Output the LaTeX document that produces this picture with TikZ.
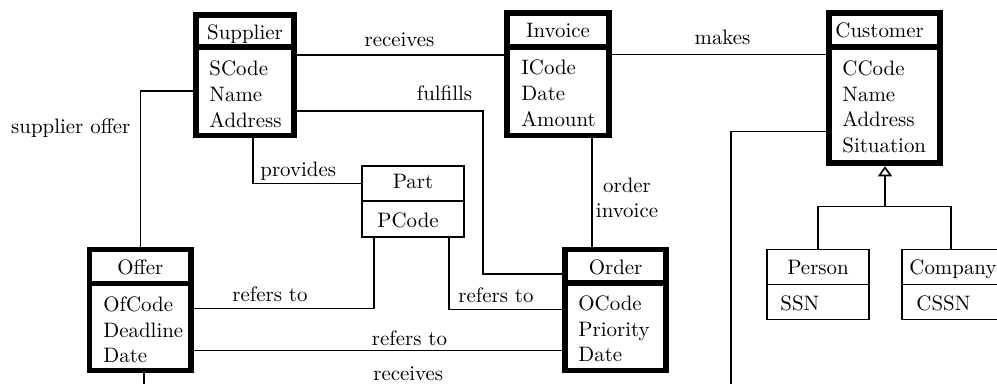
\documentclass[tikz,border=0pt]{standalone}
\usetikzlibrary{fit,arrows.meta}
\begin{document}
\begin{tikzpicture}[x=0.4785pt, y=-0.4785pt,
  every node/.style={font=\fontsize{10}{12.4}\selectfont},
  entity/.style={draw, line width=2.8pt, inner sep=0pt},
  plainbox/.style={draw, line width=0.75pt, inner sep=0pt},
  title/.style={anchor=base, inner sep=0pt},
  titleleft/.style={anchor=base west, inner sep=0pt},
  attrs/.style={anchor=north west, align=left, inner sep=0pt},
  lbl/.style={anchor=base, inner sep=0pt},
  link/.style={line width=0.75pt},
  thickdiv/.style={line width=2.8pt},
  thindiv/.style={line width=0.75pt},
  isa/.style={-{Triangle[open, width=6.7pt, length=4.8pt]}},
]
\useasboundingbox (0,0) rectangle (997,383);

% ---------- entities ----------
\node[entity, fit={(196,15) (294,135.5)}] (sup) {};
\draw[thickdiv] (sup.west |- 0,47) -- (sup.east |- 0,47);
\node[title] (supT) at (sup.center |- 0,39.5) {Supplier};
\node[attrs] (supA) at (209,60.5) {SCode\\Name\\Address};

\node[entity, fit={(507,13) (609,135.5)}] (inv) {};
\draw[thickdiv] (inv.west |- 0,47) -- (inv.east |- 0,47);
\node[title] (invT) at (inv.center |- 0,37.5) {Invoice};
\node[attrs] (invA) at (521,59.5) {ICode\\Date\\Amount};

\node[entity, fit={(828.7,13) (940,163.3)}] (cus) {};
\draw[thickdiv] (cus.west |- 0,47) -- (cus.east |- 0,47);
\node[titleleft] (cusT) at (835,37.5) {Customer};
\node[attrs] (cusA) at (842,60) {CCode\\Name\\Address\\Situation};

\node[entity, fit={(89.5,249.5) (191.3,370.5)}] (off) {};
\draw[thickdiv] (off.west |- 0,283.5) -- (off.east |- 0,283.5);
\node[title] (offT) at (off.center |- 0,274.7) {Offer};
\node[attrs] (offA) at (103,296) {OfCode\\Deadline\\Date};

\node[entity, fit={(565.3,249.5) (666,370.5)}] (ord) {};
\draw[thickdiv] (ord.west |- 0,283) -- (ord.east |- 0,283);
\node[title] (ordT) at (ord.center |- 0,274) {Order};
\node[attrs] (ordA) at (578,295) {OCode\\Priority\\Date};

\node[plainbox, fit={(362,166) (464,237)}] (part) {};
\draw[thindiv] (part.west |- 0,201) -- (part.east |- 0,201);
\node[title] (partT) at (part.center |- 0,188) {Part};
\node[attrs] (partA) at (377,212) {PCode};

\node[plainbox, fit={(767,249.3) (869,319.3)}] (per) {};
\draw[thindiv] (per.west |- 0,284.3) -- (per.east |- 0,284.3);
\node[title] (perT) at (per.center |- 0,274) {Person};
\node[attrs] (perA) at (780,295.7) {SSN};

\node[plainbox, fit={(902,249.3) (1000,319.3)}] (com) {};
\draw[thindiv] (com.west |- 0,284.3) -- (com.east |- 0,284.3);
\node[titleleft] (comT) at (909,274.5) {Company};
\node[attrs] (comA) at (916,295.7) {CSSN};

% ---------- relationships ----------
\draw[link] (sup.east |- 0,55) -- (inv.west |- 0,55);
\node[lbl] (lRec) at (399.5,46.7) {receives};

\draw[link] (inv.east |- 0,54.5) -- (cus.west |- 0,54.5);
\node[lbl] (lMak) at (722.5,45) {makes};

\draw[link] (sup.east |- 0,111) -- (483,111) -- (483,274) -- (ord.west |- 0,274);
\node[lbl] (lFul) at (444.5,100.7) {fulfills};

\draw[link] (sup.west |- 0,91) -| (off.north);
\node[lbl] (lSO) at (70.8,133) {supplier offer};

\draw[link] (sup.south -| 253,0) |- (part.west |- 0,183.3);
\node[anchor=base west, inner sep=0pt] (lPro) at (260,176) {provides};

\draw[link] (inv.south -| 592,0) -- (ord.north -| 592,0);
\node[anchor=north, align=center, inner sep=0pt,
      font=\fontsize{10}{11.8}\selectfont] (lOI) at (627,177.5) {order\\invoice};

\draw[link] (off.east |- 0,308.3) -| (part.south -| 374,0);
\node[lbl] (lR1) at (270,301.7) {refers to};

\draw[link] (part.south -| 449,0) |- (ord.west |- 0,309.3);
\node[lbl] (lR2) at (496,302.7) {refers to};

\draw[link] (off.east |- 0,350.7) -- (ord.west |- 0,350.7);
\node[lbl] (lR3) at (409.5,345.7) {refers to};

\draw[link] (off.south -| 144,0) -- (144,400) -- (731,400) -- (731,131.7) -- (cus.west |- 0,131.7);
\node[lbl] (lRec2) at (408.3,380.7) {receives};

% ---------- specialisation ----------
\coordinate (isaJoin) at (885,206.7);
\draw[link] (per.north) |- (isaJoin) -| (com.north);
\draw[link, isa] (isaJoin) -- (cus.south -| isaJoin);
\end{tikzpicture}
\end{document}
